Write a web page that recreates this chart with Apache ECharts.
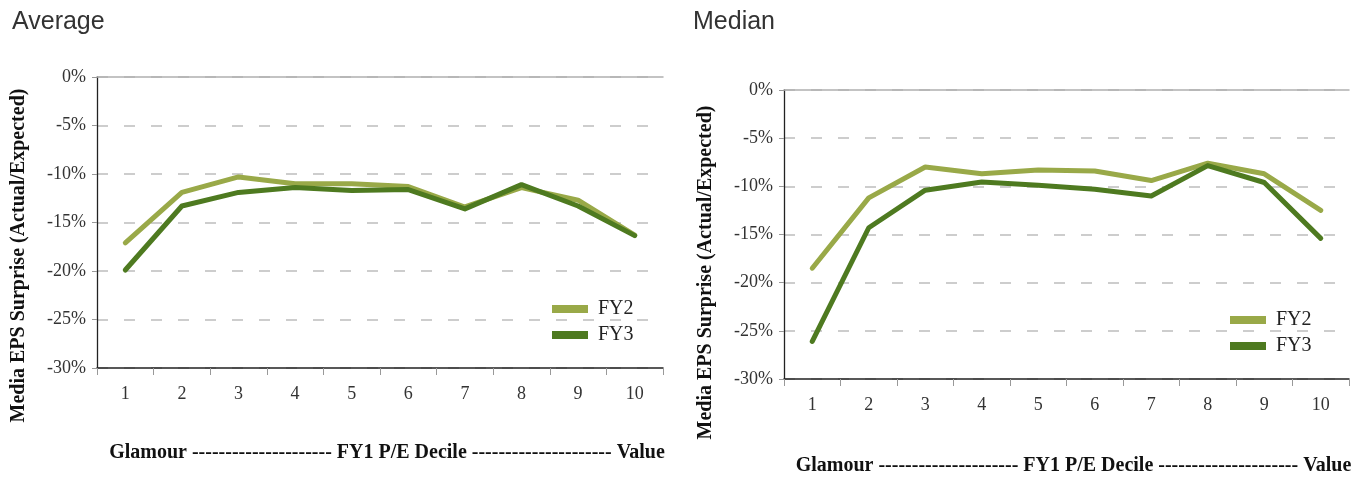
<!DOCTYPE html>
<html>
<head>
<meta charset="utf-8">
<script src="https://cdn.jsdelivr.net/npm/echarts@6/dist/echarts.min.js"></script>
<style>
  html, body { margin: 0; padding: 0; background: #fff; }
  #chart { width: 1367px; height: 477px; }
</style>
</head>
<body>
<div id="chart"></div>
<script>
// FY1 P/E deciles, glamour (1) to value (10)
const deciles = ['1', '2', '3', '4', '5', '6', '7', '8', '9', '10'];

// Average EPS surprise by decile, in percent
const avgFY2 = [-17.1, -11.9, -10.3, -11.0, -11.0, -11.3, -13.4, -11.4, -12.7, -16.3];
const avgFY3 = [-19.9, -13.3, -11.9, -11.4, -11.7, -11.6, -13.6, -11.1, -13.3, -16.35];

// Median EPS surprise by decile, in percent
const medFY2 = [-18.5, -11.2, -8.0, -8.7, -8.3, -8.4, -9.4, -7.6, -8.7, -12.5];
const medFY3 = [-26.1, -14.3, -10.4, -9.55, -9.9, -10.3, -11.0, -7.85, -9.6, -15.4];

const panelTitles = ['Average', 'Median'];
const seriesNames = ['FY2', 'FY3'];
const yName = 'Media EPS Surprise (Actual/Expected)';
const dashes = '---------------------';
const xName = 'Glamour ' + dashes + ' FY1 P/E Decile ' + dashes + ' Value';

const colFY2 = '#99a948';
const colFY3 = '#4e7a20';
const serif = '"Liberation Serif", "Times New Roman", serif';
const sans = '"Liberation Sans", Arial, sans-serif';

const grids = [
  { left: 97, top: 77, width: 566, height: 291, outerBoundsMode: 'none', containLabel: false },
  { left: 784, top: 90, width: 565, height: 289, outerBoundsMode: 'none', containLabel: false }
];

function valueAxis(i, namePad) {
  return {
    type: 'value', gridIndex: i, min: -30, max: 0, interval: 5,
    name: yName, nameLocation: 'middle', nameRotate: 90, nameGap: 68,
    nameTextStyle: { fontFamily: serif, fontWeight: 'bold', fontSize: 20, color: '#111', padding: namePad },
    axisLine: { show: true, lineStyle: { color: '#222', width: 1.3 } },
    axisTick: { show: true, length: 5, lineStyle: { color: '#999', width: 1 } },
    axisLabel: { formatter: '{value}%', fontFamily: serif, fontSize: 18, color: '#333', margin: 11 },
    splitLine: { show: true, lineStyle: { color: '#bdbdbd', width: 1.6, type: [11, 16] } }
  };
}

function categoryAxis(i, gap) {
  return {
    type: 'category', gridIndex: i, data: deciles, boundaryGap: true, position: 'bottom',
    name: xName, nameLocation: 'middle', nameGap: gap,
    nameTextStyle: { fontFamily: serif, fontWeight: 'bold', fontSize: 20, color: '#111', padding: [0, 0, 0, 14] },
    axisLine: { show: true, onZero: false, lineStyle: { color: '#222', width: 1.5 } },
    axisTick: { show: true, length: 7, lineStyle: { color: '#999', width: 1 } },
    axisLabel: { fontFamily: serif, fontSize: 18, color: '#333', margin: 17 },
    splitLine: { show: false }
  };
}

// solid light rule along the top of each plot
function topAxis(i) {
  return {
    type: 'category', gridIndex: i, position: 'top', data: deciles,
    axisLine: { show: true, onZero: false, lineStyle: { color: '#b0b0b0', width: 1.5 } },
    axisTick: { show: false }, axisLabel: { show: false }, splitLine: { show: false }
  };
}

function line(name, data, color, i) {
  return {
    type: 'line', name: name, data: data, xAxisIndex: i, yAxisIndex: i,
    symbol: 'none', smooth: false, z: name === 'FY3' ? 3 : 2,
    lineStyle: { color: color, width: 5, cap: 'round', join: 'round' },
    itemStyle: { color: color }
  };
}

function legend(left, top) {
  return {
    data: seriesNames, orient: 'vertical', left: left, top: top,
    icon: 'rect', itemWidth: 36, itemHeight: 8, itemGap: 6,
    textStyle: { fontFamily: serif, fontSize: 20, color: '#222', padding: [0, 0, 0, 5] },
    selectedMode: false
  };
}

const chart = echarts.init(document.getElementById('chart'), null, { renderer: 'canvas' });
chart.setOption({
  animation: false,
  backgroundColor: '#fff',
  title: [
    { text: panelTitles[0], left: 7, top: 5, textStyle: { fontFamily: sans, fontWeight: 'normal', fontSize: 25, color: '#333' } },
    { text: panelTitles[1], left: 688, top: 5, textStyle: { fontFamily: sans, fontWeight: 'normal', fontSize: 25, color: '#333' } }
  ],
  legend: [legend(547, 294), legend(1225, 305)],
  grid: grids,
  xAxis: [categoryAxis(0, 75), categoryAxis(1, 77), topAxis(0), topAxis(1)],
  yAxis: [valueAxis(0, [0, 66, 0, 0]), valueAxis(1, [0, 76, 0, 0])],
  series: [
    line(seriesNames[0], avgFY2, colFY2, 0),
    line(seriesNames[1], avgFY3, colFY3, 0),
    line(seriesNames[0], medFY2, colFY2, 1),
    line(seriesNames[1], medFY3, colFY3, 1)
  ]
});
</script>
</body>
</html>
